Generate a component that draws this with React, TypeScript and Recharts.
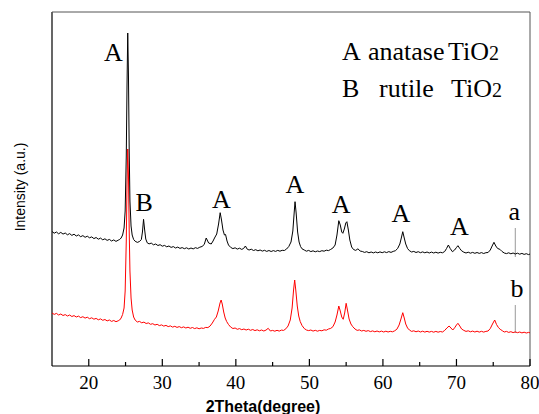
import React from 'react';
import { LineChart, Line, XAxis, YAxis, ReferenceLine, ReferenceDot } from 'recharts';

// 2θ (deg) / intensity (a.u.)
const sampleA: [number, number][] = [
  [15.0,134.5],[15.3,132.8],[15.6,134.0],[15.9,132.2],[16.2,133.6],[16.5,131.9],[16.8,133.0],[17.1,131.2],[17.4,132.4],[17.7,130.6],
  [18.0,131.8],[18.3,130.0],[18.6,131.1],[18.9,129.3],[19.2,130.4],[19.5,128.7],[19.8,129.8],[20.1,128.2],[20.4,129.1],[20.7,127.4],
  [21.0,128.5],[21.3,126.8],[21.6,127.9],[21.9,126.2],[22.2,127.2],[22.5,125.6],[22.8,126.6],[23.1,125.0],[23.4,126.1],[23.7,124.6],
  [24.0,125.8],[24.2,126.5],[24.4,128.0],[24.6,131],[24.8,138],[24.95,155],[25.1,210],[25.2,280],[25.3,333],[25.4,290],
  [25.5,215],[25.6,165],[25.75,140],[25.9,131],[26.1,126.5],[26.3,124.8],[26.6,123.6],[26.9,124.5],[27.15,126.5],[27.3,134],
  [27.45,146.7],[27.6,136],[27.75,127],[27.95,123.2],[28.2,122.1],[28.5,122.9],[28.8,121.2],[29.1,122.0],[29.4,120.5],[29.7,121.3],
  [30.0,119.8],[30.3,120.6],[30.6,119.2],[30.9,120.0],[31.2,118.6],[31.5,119.4],[31.8,118.0],[32.1,118.9],[32.4,117.6],[32.7,118.4],
  [33.0,117.3],[33.3,118.2],[33.6,117.0],[33.9,118.0],[34.2,117.1],[34.5,118.3],[34.8,117.6],[35.1,118.8],[35.4,119.5],[35.7,121.5],
  [35.97,128],[36.3,123],[36.65,122],[36.9,125],[37.1,128],[37.4,132],[37.65,142],[37.87,153.3],[38.05,146],[38.25,136],
  [38.45,131],[38.6,131.5],[38.8,125],[39.0,121],[39.3,118.6],[39.6,117.4],[39.9,118.2],[40.2,116.9],[40.5,117.8],[40.8,116.6],
  [41.05,117.5],[41.3,120],[41.55,116.8],[41.8,116.0],[42.1,116.8],[42.4,115.5],[42.7,116.3],[43.0,115.2],[43.3,116.0],[43.6,114.9],
  [43.9,115.7],[44.2,114.6],[44.5,115.5],[44.8,114.5],[45.1,115.4],[45.4,114.6],[45.7,115.6],[46.0,114.8],[46.3,115.7],[46.6,115.5],
  [46.9,117],[47.2,119.5],[47.5,124],[47.75,135],[47.95,155],[48.05,164.3],[48.2,153],[48.4,134],[48.6,124],[48.8,119.5],
  [49.0,117.2],[49.3,116.0],[49.6,114.8],[49.9,115.6],[50.2,114.4],[50.5,115.2],[50.8,114.2],[51.1,115.0],[51.4,114.4],[51.7,115.3],
  [52.0,114.8],[52.3,115.8],[52.6,115.4],[52.9,116.6],[53.2,118],[53.5,121],[53.75,131],[54.0,145.3],[54.2,141],[54.4,134],
  [54.55,132.7],[54.75,137],[54.95,143],[55.1,144.3],[55.3,136],[55.5,126],[55.75,119],[56.0,116.5],[56.3,115.6],[56.6,117.2],
  [56.9,115.0],[57.2,114.5],[57.5,113.6],[57.8,114.3],[58.1,113.2],[58.4,114.0],[58.7,113.1],[59.0,114.0],[59.3,113.2],[59.6,114.1],
  [59.9,113.3],[60.2,114.2],[60.5,113.4],[60.8,114.4],[61.1,113.6],[61.4,114.6],[61.7,115.3],[62.0,117.5],[62.3,122],[62.5,128],
  [62.7,134.3],[62.9,128],[63.1,122],[63.35,117.5],[63.6,115.3],[63.9,114.0],[64.2,114.6],[64.5,113.5],[64.8,114.3],[65.1,113.3],
  [65.4,114.1],[65.7,113.2],[66.0,114.0],[66.3,113.0],[66.6,113.9],[66.9,113.0],[67.2,113.8],[67.5,112.9],[67.8,113.7],[68.1,113.2],
  [68.4,114.5],[68.65,117.5],[68.9,121],[69.15,117.5],[69.45,114.3],[69.75,116],[70.0,118.5],[70.2,120.3],[70.45,117.5],[70.7,115.2],
  [71.0,113.8],[71.3,113.0],[71.6,113.8],[71.9,112.8],[72.2,113.6],[72.5,112.7],[72.8,113.5],[73.1,112.6],[73.4,113.4],[73.7,112.5],
  [74.0,113.3],[74.3,113.5],[74.6,116],[74.85,120],[75.1,123.7],[75.35,120],[75.6,117.5],[75.9,116.7],[76.2,114.5],[76.5,113.0],
  [76.8,112.4],[77.1,113.2],[77.4,112.2],[77.7,113.0],[78.0,112.0],[78.3,112.8],[78.6,111.8],[78.9,112.6],[79.2,111.6],[79.5,112.3],
  [79.8,111.4],[80.0,112.0],
];

const sampleB: [number, number][] = [
  [15.0,53.0],[15.3,51.6],[15.6,52.6],[15.9,51.0],[16.2,52.0],[16.5,50.5],[16.8,51.4],[17.1,50.0],[17.4,51.0],[17.7,49.5],
  [18.0,50.4],[18.3,49.0],[18.6,49.9],[18.9,48.4],[19.2,49.3],[19.5,47.9],[19.8,48.8],[20.1,47.3],[20.4,48.2],[20.7,46.8],
  [21.0,47.6],[21.3,46.2],[21.6,47.1],[21.9,45.7],[22.2,46.5],[22.5,45.1],[22.8,46.0],[23.1,44.6],[23.4,45.5],[23.7,44.3],
  [24.0,45.2],[24.2,46],[24.4,48],[24.6,51.5],[24.8,58],[24.95,75],[25.1,125],[25.2,180],[25.3,217],[25.4,190],
  [25.5,135],[25.6,95],[25.75,68],[25.9,56],[26.1,49],[26.3,46],[26.6,44.0],[26.9,44.6],[27.2,43.2],[27.5,43.9],
  [27.8,42.5],[28.1,43.1],[28.4,41.7],[28.7,42.3],[29.0,41.0],[29.3,41.7],[29.6,40.4],[29.9,41.1],[30.2,39.9],[30.5,40.6],
  [30.8,39.4],[31.1,40.1],[31.4,38.9],[31.7,39.7],[32.0,38.6],[32.3,39.4],[32.6,38.3],[32.9,39.1],[33.2,38.0],[33.5,38.8],
  [33.8,37.7],[34.1,38.5],[34.4,37.4],[34.7,38.2],[35.0,37.2],[35.3,38.0],[35.6,37.6],[35.9,38.6],[36.2,38.4],[36.5,40],
  [36.8,43],[37.1,46.7],[37.35,49],[37.6,55],[37.85,63],[38.0,66],[38.15,62],[38.35,54],[38.55,48],[38.75,44.5],
  [39.0,41.5],[39.3,38.9],[39.6,37.5],[39.9,38.0],[40.2,36.7],[40.5,37.4],[40.8,36.3],[41.1,37.0],[41.4,36.0],[41.7,36.8],
  [42.0,35.7],[42.3,36.5],[42.6,35.4],[42.9,36.2],[43.2,35.2],[43.5,36.0],[43.8,35.0],[44.1,35.9],[44.4,37.7],[44.7,35.0],
  [45.0,35.6],[45.3,34.8],[45.6,35.7],[45.9,34.9],[46.2,35.9],[46.5,35.6],[46.8,37.2],[47.1,40],[47.4,46],[47.65,58],
  [47.85,76],[48.0,86],[48.15,76],[48.35,60],[48.55,50],[48.75,44.5],[49.0,40.5],[49.3,37.5],[49.6,36.0],[49.9,35.4],
  [50.2,36.0],[50.5,34.9],[50.8,35.7],[51.1,34.8],[51.4,35.6],[51.7,35.2],[52.0,36.2],[52.3,35.8],[52.6,37.0],[52.9,37.6],
  [53.2,39.3],[53.5,44],[53.75,51],[54.0,60],[54.2,55],[54.4,49],[54.6,46.7],[54.8,53],[55.0,62.7],[55.2,55],
  [55.4,47],[55.65,42],[55.9,39.3],[56.2,37],[56.5,35.6],[56.8,36.1],[57.1,35.0],[57.4,35.6],[57.7,34.7],[58.0,35.4],
  [58.3,34.4],[58.6,35.1],[58.9,34.2],[59.2,35.0],[59.5,34.1],[59.8,34.9],[60.1,34.0],[60.4,34.8],[60.7,34.0],[61.0,34.7],
  [61.3,34.2],[61.6,35.2],[61.9,36.8],[62.2,41],[62.45,47],[62.7,53.3],[62.9,48],[63.1,42],[63.35,38],[63.6,36],
  [63.9,34.6],[64.2,35.2],[64.5,34.2],[64.8,35.0],[65.1,34.0],[65.4,34.8],[65.7,33.9],[66.0,34.7],[66.3,33.9],[66.6,34.6],
  [66.9,33.8],[67.2,34.6],[67.5,33.8],[67.8,34.5],[68.1,34.0],[68.4,35.6],[68.7,38],[69.0,40],[69.25,38],[69.5,36],
  [69.75,38.2],[70.0,41],[70.2,42.7],[70.45,40],[70.7,37],[71.0,35.6],[71.3,34.6],[71.6,35.2],[71.9,34.2],[72.2,34.9],
  [72.5,34.0],[72.8,34.8],[73.1,33.9],[73.4,34.7],[73.7,33.9],[74.0,34.6],[74.3,35.0],[74.6,37.5],[74.9,42],[75.2,46],
  [75.45,41.5],[75.7,38.5],[75.95,36.7],[76.25,35.2],[76.5,34.0],[76.8,34.6],[77.1,33.6],[77.4,34.3],[77.7,33.4],[78.0,34.1],
  [78.3,33.3],[78.6,34.0],[78.9,33.1],[79.2,33.8],[79.5,33.0],[79.8,33.6],[80.0,33.2],
];

const xTicks = [20, 25, 30, 35, 40, 45, 50, 55, 60, 65, 70, 75, 80];

// peak letters (phase) and curve labels
const peakTheta  = [23.36, 27.54, 38.05, 48.03, 54.33, 62.43, 70.41, 77.85, 78.23];
const peakHeight = [305.3, 155.3, 157.7, 173.3, 153.3, 144.3, 131.0, 146.0, 69.3];
const peakText   = ['A', 'B', 'A', 'A', 'A', 'A', 'A', 'a', 'b'];

// short vertical markers at 78°
const markerTheta = 78.0;
const markerA = [109, 138];
const markerB = [33, 61];

const SERIF = '"Liberation Serif", "Times New Roman", serif';
const SANS = '"Liberation Sans", Arial, sans-serif';

const dataA = sampleA.map(([t, v]) => ({ t, v }));
const dataB = sampleB.map(([t, v]) => ({ t, v }));

const Tick = ({ x, y, payload }: any) => {
  const major = payload.value % 10 === 0;
  return (
    <g>
      <line x1={x} x2={x} y1={y} y2={y - (major ? 7 : 4)} stroke="#000" strokeWidth={1.2} />
      {major && (
        <text x={x} y={y + 23} textAnchor="middle" style={{ fontFamily: SERIF }} fontSize={19} fill="#000">
          {payload.value}
        </text>
      )}
    </g>
  );
};

const Letter = ({ viewBox, value }: any) => (
  <text x={viewBox.x + (viewBox.width || 0) / 2} y={viewBox.y + (viewBox.height || 0) / 2}
    textAnchor="middle" fontFamily={SERIF} fontSize={26} fill="#000">{value}</text>
);

export default function App() {
  return (
    <div style={{ position: 'absolute', left: 0, top: 0, width: 539, height: 414, background: '#fff' }}>
      <LineChart width={539} height={414} margin={{ top: 12, right: 9, left: 52, bottom: 18 }}>
        <XAxis type="number" dataKey="t" domain={[15, 80]} ticks={xTicks} interval={0} allowDataOverflow
          height={30} tickSize={0} tickMargin={0} tickLine={false}
          axisLine={{ stroke: '#000', strokeWidth: 1.2 }} tick={<Tick />} />
        <YAxis type="number" domain={[0, 354]} allowDataOverflow hide />
        <ReferenceLine x={15} stroke="#000" strokeWidth={1.2} />
        <ReferenceLine x={80} stroke="#555" strokeWidth={1} />
        <ReferenceLine y={354} stroke="#555" strokeWidth={1} />
        <ReferenceLine segment={[{ x: markerTheta, y: markerA[0] }, { x: markerTheta, y: markerA[1] }]} stroke="#999" />
        <ReferenceLine segment={[{ x: markerTheta, y: markerB[0] }, { x: markerTheta, y: markerB[1] }]} stroke="#999" />
        <Line data={dataB} dataKey="v" type="linear" stroke="#ff0000" strokeWidth={1} dot={false} isAnimationActive={false} />
        <Line data={dataA} dataKey="v" type="linear" stroke="#000" strokeWidth={1} dot={false} isAnimationActive={false} />
        {peakText.map((s, i) => (
          <ReferenceDot key={i} x={peakTheta[i]} y={peakHeight[i]} r={0} fill="none" stroke="none"
            label={<Letter value={s} />} />
        ))}
      </LineChart>
      <svg width={539} height={414} style={{ position: 'absolute', left: 0, top: 0, pointerEvents: 'none' }}>
        <g fontFamily={SERIF} fontSize={26} fill="#000">
          <text x={342} y={60}>A</text>
          <text x={368} y={60}>anatase</text>
          <text x={448} y={60}>TiO<tspan fontSize={20}>2</tspan></text>
          <text x={342} y={97}>B</text>
          <text x={379} y={97}>rutile</text>
          <text x={451} y={97}>TiO<tspan fontSize={20}>2</tspan></text>
        </g>
        <text x={263} y={412} textAnchor="middle" fontFamily={SANS} fontWeight="bold" fontSize={16} fill="#000">
          2Theta(degree)
        </text>
        <text x={25} y={187} transform="rotate(-90, 25, 187)" textAnchor="middle" fontFamily={SANS} fontSize={14} fill="#000">
          Intensity (a.u.)
        </text>
      </svg>
    </div>
  );
}
